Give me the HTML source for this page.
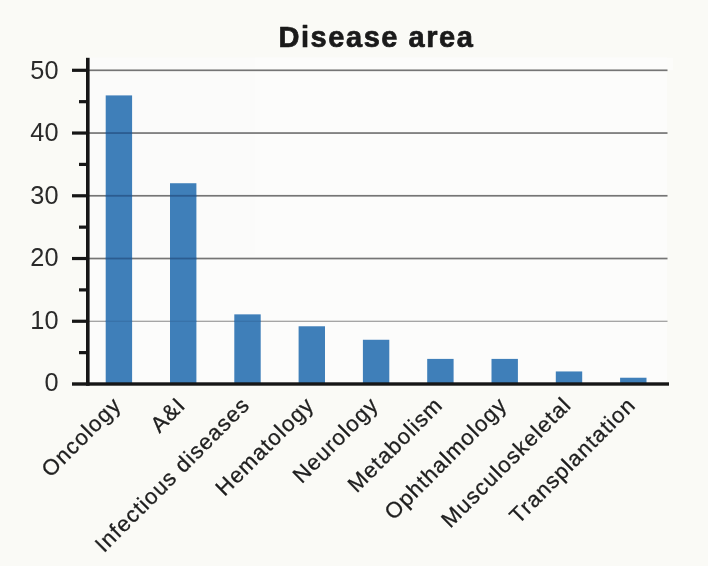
<!DOCTYPE html>
<html><head><meta charset="utf-8"><title>Disease area</title>
<style>
html,body{margin:0;padding:0;background:#fafaf6;}
body{width:708px;height:566px;overflow:hidden;font-family:"Liberation Sans",sans-serif;}
svg{display:block;will-change:transform;opacity:0.999}
text{font-family:"Liberation Sans",sans-serif;}
</style></head><body>
<svg width="708" height="566" viewBox="0 0 708 566">
<rect x="88" y="57.5" width="585" height="13" fill="#fcfcfa"/>
<rect x="88" y="57.5" width="579" height="327" fill="#fcfcfb"/>
<rect x="88" y="320.71" width="579.5" height="1.1" fill="#909090"/>
<rect x="88" y="257.67" width="579.5" height="1.7" fill="#757575"/>
<rect x="88" y="194.93" width="579.5" height="1.7" fill="#757575"/>
<rect x="88" y="132.19" width="579.5" height="1.7" fill="#757575"/>
<rect x="88" y="69.45" width="579.5" height="1.7" fill="#757575"/>
<rect x="105.70" y="95.40" width="26.4" height="288.60" fill="#3f7fb9"/>
<rect x="170.00" y="183.23" width="26.4" height="200.77" fill="#3f7fb9"/>
<rect x="234.30" y="314.36" width="26.4" height="69.64" fill="#3f7fb9"/>
<rect x="298.60" y="326.28" width="26.4" height="57.72" fill="#3f7fb9"/>
<rect x="362.90" y="339.77" width="26.4" height="44.23" fill="#3f7fb9"/>
<rect x="427.20" y="358.90" width="26.4" height="25.10" fill="#3f7fb9"/>
<rect x="491.50" y="358.90" width="26.4" height="25.10" fill="#3f7fb9"/>
<rect x="555.80" y="371.45" width="26.4" height="12.55" fill="#3f7fb9"/>
<rect x="620.10" y="377.73" width="26.4" height="6.27" fill="#3f7fb9"/>
<rect x="105.70" y="320.71" width="26.4" height="1.1" fill="#376fa6"/>
<rect x="105.70" y="257.62" width="26.4" height="1.8" fill="#2b5c90"/>
<rect x="105.70" y="194.88" width="26.4" height="1.8" fill="#2b5c90"/>
<rect x="105.70" y="132.14" width="26.4" height="1.8" fill="#2b5c90"/>
<rect x="170.00" y="320.71" width="26.4" height="1.1" fill="#376fa6"/>
<rect x="170.00" y="257.62" width="26.4" height="1.8" fill="#2b5c90"/>
<rect x="170.00" y="194.88" width="26.4" height="1.8" fill="#2b5c90"/>
<rect x="234.30" y="320.71" width="26.4" height="1.1" fill="#376fa6"/>
<rect x="86" y="57.8" width="3.6" height="328" fill="#161616"/>
<rect x="72" y="382.3" width="597" height="3.4" fill="#161616"/>
<rect x="79" y="351.03" width="8" height="3.2" fill="#161616"/>
<rect x="72" y="319.66" width="15" height="3.2" fill="#161616"/>
<rect x="79" y="288.29" width="8" height="3.2" fill="#161616"/>
<rect x="72" y="256.92" width="15" height="3.2" fill="#161616"/>
<rect x="79" y="225.55" width="8" height="3.2" fill="#161616"/>
<rect x="72" y="194.18" width="15" height="3.2" fill="#161616"/>
<rect x="79" y="162.81" width="8" height="3.2" fill="#161616"/>
<rect x="72" y="131.44" width="15" height="3.2" fill="#161616"/>
<rect x="79" y="100.07" width="8" height="3.2" fill="#161616"/>
<rect x="72" y="68.70" width="15" height="3.2" fill="#161616"/>
<text x="58.5" y="391.10" font-size="25.3" text-anchor="end" fill="#2a2a2a">0</text>
<text x="58.5" y="328.60" font-size="25.3" text-anchor="end" fill="#2a2a2a">10</text>
<text x="58.5" y="266.10" font-size="25.3" text-anchor="end" fill="#2a2a2a">20</text>
<text x="58.5" y="203.60" font-size="25.3" text-anchor="end" fill="#2a2a2a">30</text>
<text x="58.5" y="141.10" font-size="25.3" text-anchor="end" fill="#2a2a2a">40</text>
<text x="58.5" y="78.60" font-size="25.3" text-anchor="end" fill="#2a2a2a">50</text>
<text x="278.5" y="46.8" font-size="29" font-weight="bold" letter-spacing="1.55" stroke="#1a1a1a" stroke-width="0.7" stroke-linejoin="round" fill="#1a1a1a">Disease area</text>
<text transform="translate(122.50,406.3) rotate(-45)" font-size="22" letter-spacing="1.1" text-anchor="end" fill="#1e1e1e" stroke="#1e1e1e" stroke-width="0.3">Oncology</text>
<text transform="translate(186.80,406.3) rotate(-45)" font-size="22" letter-spacing="1.1" text-anchor="end" fill="#1e1e1e" stroke="#1e1e1e" stroke-width="0.3">A&amp;I</text>
<text transform="translate(251.10,406.3) rotate(-45)" font-size="22" letter-spacing="1.1" text-anchor="end" fill="#1e1e1e" stroke="#1e1e1e" stroke-width="0.3">Infectious diseases</text>
<text transform="translate(315.40,406.3) rotate(-45)" font-size="22" letter-spacing="1.1" text-anchor="end" fill="#1e1e1e" stroke="#1e1e1e" stroke-width="0.3">Hematology</text>
<text transform="translate(379.70,406.3) rotate(-45)" font-size="22" letter-spacing="1.1" text-anchor="end" fill="#1e1e1e" stroke="#1e1e1e" stroke-width="0.3">Neurology</text>
<text transform="translate(444.00,406.3) rotate(-45)" font-size="22" letter-spacing="1.1" text-anchor="end" fill="#1e1e1e" stroke="#1e1e1e" stroke-width="0.3">Metabolism</text>
<text transform="translate(508.30,406.3) rotate(-45)" font-size="22" letter-spacing="1.1" text-anchor="end" fill="#1e1e1e" stroke="#1e1e1e" stroke-width="0.3">Ophthalmology</text>
<text transform="translate(572.60,406.3) rotate(-45)" font-size="22" letter-spacing="1.1" text-anchor="end" fill="#1e1e1e" stroke="#1e1e1e" stroke-width="0.3">Musculoskeletal</text>
<text transform="translate(636.90,406.3) rotate(-45)" font-size="22" letter-spacing="1.1" text-anchor="end" fill="#1e1e1e" stroke="#1e1e1e" stroke-width="0.3">Transplantation</text>
</svg></body></html>
